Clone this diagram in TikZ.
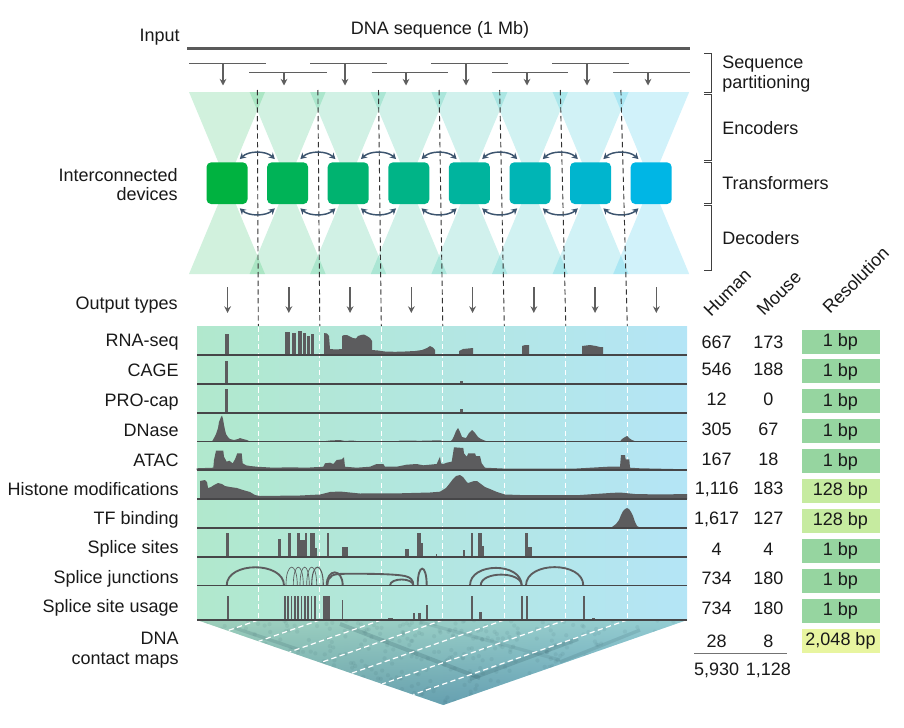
\documentclass[tikz,border=0pt]{standalone}
\usepackage{fontspec}
\setmainfont{Liberation Sans}
\usetikzlibrary{arrows.meta,calc}
\definecolor{devA}{RGB}{0,178,64}
\definecolor{devB}{RGB}{0,182,229}
\definecolor{sig}{RGB}{92,92,94}
\definecolor{basec}{RGB}{70,70,72}
\definecolor{arrc}{RGB}{95,95,95}
\definecolor{dblc}{RGB}{60,84,110}
\definecolor{trkL}{RGB}{177,232,205}
\definecolor{trkR}{RGB}{180,229,246}
\definecolor{resA}{RGB}{150,213,160}
\definecolor{resB}{RGB}{198,235,160}
\definecolor{resC}{RGB}{232,245,160}
\definecolor{txt}{RGB}{25,25,25}
\definecolor{inl}{RGB}{90,90,90}
\definecolor{cmL}{RGB}{155,205,178}
\definecolor{cmR}{RGB}{135,200,228}
\definecolor{cmT}{RGB}{160,210,195}
\definecolor{cmB}{RGB}{60,118,150}
\definecolor{cmS}{RGB}{40,80,90}
\begin{document}
\begin{tikzpicture}[x=0.75pt,y=-0.75pt,
  font=\fontsize{13.5}{16}\selectfont,
  lbl/.style={anchor=base east, inner sep=0pt, text=txt},
  lblw/.style={anchor=base west, inner sep=0pt, text=txt},
  num/.style={anchor=base, inner sep=0pt, text=txt},
  devbox/.style={rounded corners=3.5pt, minimum width=30.75pt, minimum height=31.3pt, inner sep=0pt},
  resbox/.style={minimum width=58.5pt, minimum height=18pt, inner sep=0pt, text height=1.4ex, text depth=0pt, text=txt},
  partarr/.style={-{Stealth[length=5pt,width=5pt]}, line width=1pt, draw=arrc},
  dbl/.style={{Stealth[length=4.5pt,width=5pt]}-{Stealth[length=4.5pt,width=5pt]}, line width=1.1pt, draw=dblc},
  blackdash/.style={draw=black!80, line width=0.7pt, dash pattern=on 4pt off 2.5pt},
  whitedash/.style={draw=white, line width=0.9pt, dash pattern=on 4pt off 2.5pt},
  baseln/.style={draw=basec, line width=1pt},
  arcthick/.style={draw=sig, line width=1.4pt},
  arcthin/.style={draw=sig, line width=0.5pt},
  brk/.style={draw=black!75, line width=0.7pt}
]
\useasboundingbox (0,0) rectangle (904,728);

% ---------- input and partitioning ----------
\node[num] (title) at (440,34) {DNA sequence (1 Mb)};
\node[lbl] (lInput) at (180,41.5) {Input};
\coordinate (inL) at (187,48.3);
\coordinate (inR) at (690,48.3);
\draw[line width=2.2pt, draw=inl] (inL) -- (inR);
\foreach \a/\b/\y/\ax [count=\k] in {189/266/63.3/223, 310/387/63.3/345, 431/508/63.3/466, 552/629/63.3/587,
                                    249/327/72.7/284, 372/448/72.7/406, 492/568/72.7/527, 613/690/72.7/648} {
  \coordinate (sa\k) at (\a,\y);
  \coordinate (sb\k) at (\b,\y);
  \coordinate (pa\k) at (\ax,\y);
  \coordinate (pb\k) at (\ax,85.5);
  \draw[line width=1.1pt, draw=arrc] (sa\k) -- (sb\k);
  \draw[partarr] (pa\k) -- (pb\k);
}

% ---------- hourglasses and devices ----------
\foreach \i in {0,...,7} {
  \pgfmathsetmacro\ex{227+60.6*\i}
  \pgfmathtruncatemacro\pc{round(100*\i/7)}
  \colorlet{hg}{devB!\pc!devA}
  \fill[hg, fill opacity=0.18] (\ex-38,92) -- (\ex+38,92) -- (\ex,183) -- cycle;
  \fill[hg, fill opacity=0.18] (\ex-38,274) -- (\ex+38,274) -- (\ex,183) -- cycle;
}
\foreach \j in {0,...,6} {
  \coordinate (dta\j) at (257.3+60.6*\j,90);
  \coordinate (dtb\j) at (258.3+61.5*\j,326.7);
  \draw[blackdash] (dta\j) -- (dtb\j);
}
\foreach \i in {0,...,7} {
  \pgfmathsetmacro\ex{227+60.6*\i}
  \pgfmathtruncatemacro\pc{round(100*\i/7)}
  \colorlet{hg}{devB!\pc!devA}
  \node[devbox, fill=hg] (dev\i) at (\ex,183.2) {};
}
\foreach \i in {0,...,6} {
  \pgfmathtruncatemacro\j{\i+1}
  \draw[dbl] ($(dev\i.north east)+(-8,-3)$) .. controls +(9,-8.5) and +(-9,-8.5) .. ($(dev\j.north west)+(8,-3)$);
  \draw[dbl] ($(dev\i.south east)+(-8,4)$) .. controls +(9,8) and +(-9,8) .. ($(dev\j.south west)+(8,4)$);
}
\node[lbl] (lDev1) at (178,181.7) {Interconnected};
\node[lbl] (lDev2) at (178,200) {devices};

% right brackets
\draw[brk] (704,53) -- (711,53) -- (711,92) -- (704,92);
\draw[brk] (704,94) -- (711,94) -- (711,160) -- (704,160);
\draw[brk] (704,162) -- (711,162) -- (711,203) -- (704,203);
\draw[brk] (704,205) -- (711,205) -- (711,270) -- (704,270);
\node[lblw] (rSeq1) at (722,68.3) {Sequence};
\node[lblw] (rSeq2) at (722,88.3) {partitioning};
\node[lblw] (rEnc) at (722,134) {Encoders};
\node[lblw] (rTra) at (722,189) {Transformers};
\node[lblw] (rDec) at (722,244) {Decoders};

% ---------- output types ----------
\node[lbl] (lOut) at (178,309) {Output types};
\foreach \i in {0,...,7} {
  \coordinate (oa\i) at (227.6+61.25*\i,287);
  \coordinate (ob\i) at (227.6+61.25*\i,313);
  \draw[partarr] (oa\i) -- (ob\i);
}

% ---------- tracks background ----------
\shade[left color=trkL, right color=trkR] (197,326.7) rectangle (687,620);

% contact map
\coordinate (cmA) at (197,620);
\coordinate (cmB) at (687,620);
\coordinate (cmC) at (443.3,705);
\shade[left color=cmL, right color=cmR] (cmA) -- (cmB) -- (cmC) -- cycle;
\shade[top color=cmT, bottom color=cmB, opacity=0.5] (cmA) -- (cmB) -- (cmC) -- cycle;
\begin{scope}
  \clip (cmA) -- (cmB) -- (cmC) -- cycle;
  \pgfmathsetseed{7}
  \foreach \n in {1,...,500} {
    \pgfmathsetmacro\rx{197+490*rnd}
    \pgfmathsetmacro\ry{620+85*rnd}
    \fill[cmS, opacity=0.08] (\rx,\ry) circle (1.6pt);
  }
  \draw[cmS, opacity=0.2, line width=3pt] (340,624) -- (480,678);
  \draw[cmS, opacity=0.2, line width=3pt] (578,639) -- (470,679);
  \draw[cmS, opacity=0.16, line width=2.5pt] (235,628) -- (300,650);
  \draw[cmS, opacity=0.12, line width=2.5pt] (420,622) -- (560,660);
  \draw[cmS, opacity=0.15, line width=2.5pt] (640,630) -- (560,662);
  \foreach \j in {0,...,6} {
    \pgfmathsetmacro\tx{258.3+61.5*\j}
    \pgfmathsetmacro\s{(\tx-197)/490}
    \draw[whitedash] (\tx,620) -- (\tx-244*\s,620+85*\s);
  }
\end{scope}

% white dashed column lines
\foreach \j in {0,...,6} {
  \coordinate (wa\j) at (258.3+61.5*\j,326.7);
  \coordinate (wb\j) at (258.3+61.5*\j,620);
  \draw[whitedash] (wa\j) -- (wb\j);
}

% ---------- signals ----------
% RNA-seq (baseline 355)
\fill[sig] (225,355) rectangle (229.3,333.5);
\foreach \a/\b/\h in {285/290/332, 291.5/296/333, 297.5/301.5/331, 302.5/305.5/333, 307/309.5/336, 310.5/314/334}
  \fill[sig] (\a,355) rectangle (\b,\h);
\fill[sig] (324,355) -- (324,333) -- (327,333.5) -- (329,336) -- (330,349) -- (336,349.5) -- (342,349) -- (342,336)
  -- (344,335) -- (347,335) -- (350,336.5) -- (353,338) -- (356,338.5) -- (358,336) -- (361,335) -- (364,334.5)
  -- (367,336) -- (370,338) -- (372,341) -- (372,350) -- (378,350.5) -- (385,351.5) -- (395,351.8) -- (405,351.5)
  -- (415,351) -- (422,350) -- (427,348) -- (430,346) -- (433,347.5) -- (435,350) -- (435,355) -- cycle;
\fill[sig] (459,355) -- (459,351) -- (463,349) -- (473,348) -- (473,355) -- cycle;
\fill[sig] (522,355) -- (522,346) -- (525,345) -- (529,345) -- (529,355) -- cycle;
\fill[sig] (582,355) -- (582,346) -- (590,345) -- (596,346) -- (600,347) -- (603,347) -- (603,355) -- cycle;
% CAGE (384)
\fill[sig] (225.3,384) rectangle (227.5,360.7);
\fill[sig] (460,384) rectangle (462.7,381);
% PRO-cap (413)
\fill[sig] (225.3,413) rectangle (227.5,389.3);
\fill[sig] (460,413) rectangle (462.7,409.3);
% DNase (441.5)
\fill[sig] (212,441.5) -- (214,438) -- (216,434) -- (218,428) -- (219,422) -- (221,417) -- (222,415.5) -- (223,419)
  -- (224,425) -- (225,430) -- (226,434) -- (228,437) -- (230,439) -- (234,440) -- (238,439) -- (240,438) -- (243,439)
  -- (247,440) -- (250,441.5) -- cycle;
\fill[sig] (322,441.5) -- (330,440.5) -- (340,440) -- (345,441) -- (352,440.5) -- (360,441.5) -- cycle;
\fill[sig] (397,441.5) -- (400,440.5) -- (420,440.8) -- (440,440.3) -- (444,441.5) -- cycle;
\fill[sig] (450,441.5) -- (452,440) -- (454,436) -- (456,431) -- (458,428) -- (460,432) -- (462,437) -- (466,438)
  -- (469,433) -- (472,430) -- (475,433) -- (478,437) -- (481,439) -- (487,441.5) -- cycle;
\fill[sig] (620,441.5) -- (622,439) -- (625,437) -- (627,436) -- (629,438) -- (632,440) -- (636,441.5) -- cycle;
% ATAC (470)
\fill[sig] (196.7,470) -- (196.7,468.3) -- (213.3,467.7) -- (214,460) -- (216,450.7) -- (223.3,450.7) -- (224,456.7)
  -- (226.7,461.7) -- (229.3,460.7) -- (232.7,463.3) -- (235,459.3) -- (237.3,453.3) -- (241.7,453.3) -- (242.7,463.3)
  -- (246,465.3) -- (250,466) -- (256.7,466.7) -- (273.3,467.7) -- (290,467.3) -- (306.7,467.7) -- (323.3,466.7)
  -- (325,463.3) -- (330,462.7) -- (333.3,464) -- (336.7,460) -- (341.7,459.3) -- (344,457.3) -- (345,466.7)
  -- (356.7,467.7) -- (370,466.7) -- (376.7,464) -- (383.3,464) -- (385,466.7) -- (396.7,466.7) -- (406.7,464.7)
  -- (416.7,464) -- (423.3,465.3) -- (436.7,464) -- (440,456.7) -- (441,463.3) -- (443.3,464) -- (446.7,462.7)
  -- (451.7,461.7) -- (454,447.3) -- (463.3,448) -- (464,453.3) -- (466.7,456.7) -- (468.3,453.3) -- (475,453.3)
  -- (476,456) -- (480,456) -- (481.7,463.3) -- (485,467.7) -- (506.7,468.7) -- (540,468.7) -- (573.3,468.7)
  -- (608.3,466.7) -- (620,466.7) -- (621,455) -- (625,455) -- (625.7,459.3) -- (629.3,459.3) -- (630,467.7)
  -- (640,468.3) -- (673.3,469) -- (686.7,469.3) -- (686.7,470) -- cycle;
% Histone (499)
\fill[sig] (200,499) -- (200,481) -- (205,480) -- (207,482) -- (208,488) -- (211,487) -- (214,485) -- (218,483)
  -- (222,484) -- (225,486) -- (230,487) -- (237,488) -- (243,490) -- (250,492) -- (255,495) -- (260,496)
  -- (300,495.5) -- (320,494.5) -- (330,492) -- (340,491.5) -- (350,492.5) -- (360,493.5) -- (400,493.3)
  -- (430,492.5) -- (440,491.7) -- (446,488) -- (450,483) -- (453,479) -- (456,476) -- (460,475) -- (463,477)
  -- (466,481) -- (468,483) -- (471,482) -- (474,481) -- (477,481) -- (481,484) -- (485,487) -- (490,489)
  -- (497,492) -- (505,494.5) -- (520,495) -- (580,495) -- (610,493) -- (620,492.5) -- (635,494) -- (660,494.5)
  -- (687,494) -- (687,499) -- cycle;
% TF binding (528)
\fill[sig] (608,528) -- (612,527) -- (616,524) -- (619,520) -- (621,515) -- (623,511) -- (625,509) -- (627,508)
  -- (629,509) -- (631,512) -- (633,516) -- (635,522) -- (637,526) -- (640,527.5) -- (645,528) -- cycle;
\fill[sig] (233,528) rectangle (257,526.5);
\fill[sig] (393,528) rectangle (437,526.8);
\fill[sig] (457,528) rectangle (503,526.5);
% Splice sites (557)
\foreach \a/\b/\h in {226/229.3/532.7, 278.3/280.7/539.3, 287.7/290.7/532.7, 296.7/300/532.7, 300/305/540,
  305/307.3/532.7, 310/315/532.7, 315/316.7/548, 327.3/329.3/532.7, 341.7/348.3/546.7, 405/409.3/549.3,
  416.7/420.5/532.7, 420.5/422.7/543, 436/437.3/553.5, 462.7/465/550, 470.7/472.7/532.7, 477.7/481.7/533.3,
  481.7/484/546, 525/528.3/532.7, 528.3/531.7/546.7}
  \fill[sig] (\a,557) rectangle (\b,\h);
% Splice junctions (585.5)
\draw[arcthick] (226.7,585.5) .. controls (226.7,561.2) and (284,561.2) .. (284,585.5);
\foreach \a/\b in {286/297.3, 293.3/303.3, 300/309.3, 306.7/316.7}
  \draw[arcthin] (\a,585.5) .. controls (\a,561) and (\b,561) .. (\b,585.5);
\draw[arcthin, line width=0.8pt] (311.7,585.5) .. controls (311.7,561) and (323.3,561) .. (323.3,585.5);
\draw[arcthick] (326.7,585.5) .. controls (326.7,568) and (342.7,568) .. (342.7,585.5);
\draw[arcthick] (327.3,585.5) .. controls (328,575) and (333,573.8) .. (345,573.8)
  .. controls (370,573.6) and (395,574) .. (405,576) .. controls (411,577.5) and (413.3,580) .. (413.3,585.5);
\draw[arcthick] (390,585.5) .. controls (390,577.5) and (413.3,577.5) .. (413.3,585.5);
\draw[arcthick] (417.7,585.5) .. controls (417.7,563) and (426.7,563) .. (426.7,585.5);
\draw[arcthick] (470,585.5) .. controls (470,562) and (521.7,562) .. (521.7,585.5);
\draw[arcthick] (480.7,585.5) .. controls (480.7,571) and (521.7,571) .. (521.7,585.5);
\draw[arcthick] (526,585.5) .. controls (526,561) and (583.3,561) .. (583.3,585.5);
% Splice site usage (620)
\fill[sig] (226.7,620) rectangle (228.7,596);
\foreach \i in {0,...,9}
  \fill[sig] (284+3.33*\i,620) rectangle (285.6+3.33*\i,596);
\foreach \a/\b/\h in {323.3/330/596, 341.7/343.3/600, 388/392.7/618, 412.7/415/612.7, 418.3/420.7/612.7,
  426/428/605, 470.7/472.7/596, 479.3/482/611.7, 521/523.3/596, 526/528.3/596, 582.7/584.7/596, 592/595.3/618}
  \fill[sig] (\a,620) rectangle (\b,\h);

% baselines
\foreach \b [count=\k] in {355,384,413,441.5,470,499,528,557,585.5,620} {
  \coordinate (bl\k) at (197,\b);
  \coordinate (br\k) at (687,\b);
  \draw[baseln] (bl\k) -- (br\k);
}

% track labels
\foreach \y/\t [count=\k] in {346.5/RNA-seq, 376.5/CAGE, 406.5/PRO-cap, 436.5/DNase, 466.5/ATAC,
  495/Histone modifications, 524.5/TF binding, 553.5/Splice sites, 583.5/Splice junctions,
  612/Splice site usage, 644.3/DNA, 664/contact maps}
  \node[lbl] (tl\k) at (179,\y) {\t};

% ---------- right table ----------
\node[lblw, rotate=45] (hHum) at (711,318) {Human};
\node[lblw, rotate=45] (hMou) at (764,317) {Mouse};
\node[lblw, rotate=45] (hRes) at (830,315) {Resolution};
\foreach \y/\h/\m [count=\k] in {348.3/667/173, 375.3/546/188, 405/12/0, 435/305/67, 465/167/18,
  494.3/{1,116}/183, 524.3/{1,617}/127, 555/4/4, 584.3/734/180, 614/734/180, 647/28/8} {
  \node[num] (nh\k) at (716.7,\y) {\h};
  \node[num] (nm\k) at (768.3,\y) {\m};
}
\coordinate (sepL) at (694,653.3);
\coordinate (sepR) at (786.7,653.3);
\draw[draw=black!55, line width=0.9pt] (sepL) -- (sepR);
\node[num] (tH) at (716.7,675.2) {5,930};
\node[num] (tM) at (768.3,675.2) {1,128};
\foreach \y/\t/\c [count=\k] in {342/1 bp/resA, 371.3/1 bp/resA, 401.2/1 bp/resA, 431.2/1 bp/resA, 461.2/1 bp/resA,
  490.8/128 bp/resB, 520.8/128 bp/resB, 550.8/1 bp/resA, 580.8/1 bp/resA, 610.7/1 bp/resA, 640.7/{2,048 bp}/resC}
  \node[resbox, fill=\c] (rb\k) at (840.5,\y) {\t};
\end{tikzpicture}
\end{document}
